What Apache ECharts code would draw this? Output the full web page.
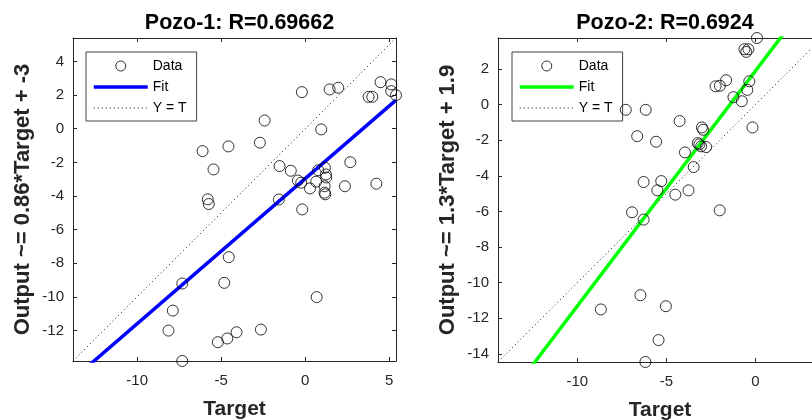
<!DOCTYPE html>
<html>
<head>
<meta charset="utf-8">
<script src="https://cdn.jsdelivr.net/npm/echarts@6/dist/echarts.min.js"></script>
<style>
  html, body { margin: 0; padding: 0; background: #ffffff; }
  #chart { width: 812px; height: 420px; }
</style>
</head>
<body>
<div id="chart"></div>
<script>
// ---- Pozo-1: targets and network outputs ----
const pozo1Target = [
  -0.20, 1.45, 1.96, 4.48, 5.12, 5.12, 5.40, 3.77, 3.99, -2.42,
  0.95, -6.11, -4.57, -2.70, -5.46, -1.53, -0.86, -0.44, -0.24, 0.28,
  0.65, 0.77, 1.17, 1.23, 1.25, 1.15, 1.15, 1.19, 2.68, 2.36,
  4.23, -5.80, -5.74, -1.57, -0.18, -4.55, -7.32, -4.82, 0.68, -7.88,
  -8.14, -5.20, -4.64, -4.09, -2.64, -7.32
];
const pozo1Output = [
  2.18, 2.34, 2.44, 2.77, 2.64, 2.24, 2.00, 1.90, 1.90, 0.49,
  -0.04, -1.33, -1.05, -0.83, -2.42, -2.22, -2.50, -3.08, -3.21, -3.55,
  -3.15, -2.47, -2.32, -2.72, -2.90, -3.42, -3.80, -3.90, -1.99, -3.42,
  -3.27, -4.20, -4.48, -4.21, -4.80, -7.64, -9.21, -9.17, -10.02, -10.82,
  -12.01, -12.70, -12.48, -12.11, -11.95, -13.82
];
const pozo1Fit = [0.864, -2.96];          // slope, intercept
const pozo1R = 0.69662;
const pozo1Limits = [-13.82, 5.40];
const pozo1XTicks = [-10, -5, 0, 5];
const pozo1YTicks = [-12, -10, -8, -6, -4, -2, 0, 2, 4];

// ---- Pozo-2: targets and network outputs ----
const pozo2Target = [
  0.08, -0.62, -0.40, -0.52, -1.65, -2.24, -2.00, -0.35, -0.46, -1.24,
  -0.77, -0.17, -7.28, -6.16, -4.26, -3.01, -2.94, -6.64, -5.58, -3.24,
  -3.15, -3.05, -2.77, -3.96, -3.47, -6.28, -5.29, -5.51, -4.50, -3.76,
  -6.93, -6.28, -2.01, -6.46, -8.68, -5.03, -5.44, -6.18
];
const pozo2Output = [
  3.73, 3.10, 3.10, 2.95, 1.36, 1.02, 1.05, 1.30, 0.82, 0.41,
  0.18, -1.29, -0.30, -0.30, -0.93, -1.29, -1.42, -1.78, -2.09, -2.17,
  -2.24, -2.35, -2.39, -2.69, -3.51, -4.35, -4.30, -4.82, -5.06, -4.82,
  -6.05, -6.46, -5.94, -10.70, -11.50, -11.32, -13.22, -14.45
];
const pozo2Fit = [1.32, 1.89];            // slope, intercept
const pozo2R = 0.6924;
const pozo2Limits = [-14.45, 3.73];
const pozo2XTicks = [-10, -5, 0];
const pozo2YTicks = [-14, -12, -10, -8, -6, -4, -2, 0, 2];

const legendLabels = ['Data', 'Fit', 'Y = T'];

const FONT = 'Liberation Sans, Arial, Helvetica, sans-serif';
const INK = '#262626';
const FIT_WIDTH = 3.5;
const DIAG_COLOR = '#111111';
const DIAG_DASH = [1, 3];

function coef(v) {
  return String(Number(v.toPrecision(2)));
}

function zip(xs, ys) {
  return xs.map((x, i) => [x, ys[i]]);
}

function buildPanel(p) {
  const i = p.index;
  const [lo, hi] = p.limits;
  const [slope, intercept] = p.fit;
  const nameOf = k => legendLabels[k] + '#' + i;
  const hidden = { color: 'rgba(0,0,0,0)', borderColor: 'rgba(0,0,0,0)', borderWidth: 0 };

  const axisCommon = {
    min: lo,
    max: hi,
    gridIndex: i,
    splitLine: { show: false },
    axisLine: { show: true, onZero: false, lineStyle: { color: INK, width: 1 } }
  };

  const xAxes = [
    Object.assign({}, axisCommon, {
      type: 'value', position: 'bottom',
      name: 'Target', nameLocation: 'middle', nameGap: 38,
      nameTextStyle: { fontFamily: FONT, fontSize: 21, fontWeight: 'bold', color: INK },
      axisTick: { show: true, inside: true, length: 4, customValues: p.xTicks, lineStyle: { color: INK } },
      axisLabel: { show: true, customValues: p.xTicks, margin: 12, fontFamily: FONT, fontSize: 15, color: INK }
    }),
    Object.assign({}, axisCommon, {
      type: 'value', position: 'top',
      axisTick: { show: true, inside: true, length: 4, customValues: p.xTicks, lineStyle: { color: INK } },
      axisLabel: { show: false }
    })
  ];

  const yAxes = [
    Object.assign({}, axisCommon, {
      type: 'value', position: 'left',
      name: 'Output ~= ' + coef(slope) + '*Target + ' + coef(intercept),
      nameLocation: 'middle', nameGap: 39,
      nameTextStyle: { fontFamily: FONT, fontSize: 22, fontWeight: 'bold', color: INK },
      axisTick: { show: true, inside: true, length: 4, customValues: p.yTicks, lineStyle: { color: INK } },
      axisLabel: { show: true, customValues: p.yTicks, margin: 9, fontFamily: FONT, fontSize: 15, color: INK }
    }),
    Object.assign({}, axisCommon, {
      type: 'value', position: 'right',
      axisTick: { show: true, inside: true, length: 4, customValues: p.yTicks, lineStyle: { color: INK } },
      axisLabel: { show: false }
    })
  ];

  const series = [
    {
      name: nameOf(0), type: 'scatter',
      xAxisIndex: 2 * i, yAxisIndex: 2 * i,
      data: zip(p.target, p.output),
      symbol: 'circle', symbolSize: 11,
      itemStyle: { color: 'rgba(0,0,0,0)', borderColor: '#000000', borderWidth: 1 },
      z: 4
    },
    {
      name: nameOf(1), type: 'line',
      xAxisIndex: 2 * i, yAxisIndex: 2 * i,
      data: [[lo, slope * lo + intercept], [hi, slope * hi + intercept]],
      symbol: 'none', showSymbol: false, clip: true,
      itemStyle: hidden,
      lineStyle: { color: p.fitColor, width: FIT_WIDTH },
      z: 3
    },
    {
      name: nameOf(2), type: 'line',
      xAxisIndex: 2 * i, yAxisIndex: 2 * i,
      data: [[lo, lo], [hi, hi]],
      symbol: 'none', showSymbol: false, clip: true,
      itemStyle: hidden,
      lineStyle: { color: DIAG_COLOR, width: 1, type: DIAG_DASH },
      z: 2
    }
  ];

  return {
    grid: {
      left: p.grid[0], top: p.grid[1], width: p.grid[2], height: p.grid[3],
      containLabel: false, outerBoundsMode: 'none'
    },
    title: {
      text: 'Pozo-' + (i + 1) + ': R=' + p.r,
      left: p.grid[0] + p.grid[2] / 2,
      top: 7,
      textAlign: 'center',
      textStyle: { fontFamily: FONT, fontSize: 21.5, fontWeight: 'bold', color: '#000000' }
    },
    legend: {
      orient: 'vertical',
      left: p.legendPos[0], top: p.legendPos[1],
      data: [
        { name: nameOf(0), itemStyle: { color: 'rgba(0,0,0,0)', borderColor: '#000000', borderWidth: 1 } },
        { name: nameOf(1), itemStyle: hidden, lineStyle: { color: p.fitColor, width: FIT_WIDTH } },
        { name: nameOf(2), itemStyle: hidden, lineStyle: { color: DIAG_COLOR, width: 1, type: DIAG_DASH } }
      ],
      formatter: n => n.split('#')[0],
      itemWidth: 54, itemHeight: 10, itemGap: 7,
      padding: [7, 10, 6, 6],
      backgroundColor: '#ffffff',
      borderColor: '#404040', borderWidth: 1, borderRadius: 0,
      selectedMode: false,
      textStyle: { fontFamily: FONT, fontSize: 14, color: '#000000' }
    },
    xAxes, yAxes, series
  };
}

const panels = [
  buildPanel({
    index: 0, target: pozo1Target, output: pozo1Output, fit: pozo1Fit, r: pozo1R,
    limits: pozo1Limits, xTicks: pozo1XTicks, yTicks: pozo1YTicks,
    fitColor: '#0000ff', grid: [73, 38, 323, 323], legendPos: [86, 52]
  }),
  buildPanel({
    index: 1, target: pozo2Target, output: pozo2Output, fit: pozo2Fit, r: pozo2R,
    limits: pozo2Limits, xTicks: pozo2XTicks, yTicks: pozo2YTicks,
    fitColor: '#00ff00', grid: [498, 38, 324, 324], legendPos: [512, 52]
  })
];

const chart = echarts.init(document.getElementById('chart'), null, { renderer: 'canvas' });
chart.setOption({
  animation: false,
  backgroundColor: '#ffffff',
  title: panels.map(p => p.title),
  legend: panels.map(p => p.legend),
  grid: panels.map(p => p.grid),
  xAxis: panels.flatMap(p => p.xAxes),
  yAxis: panels.flatMap(p => p.yAxes),
  series: panels.flatMap(p => p.series)
});
</script>
</body>
</html>
